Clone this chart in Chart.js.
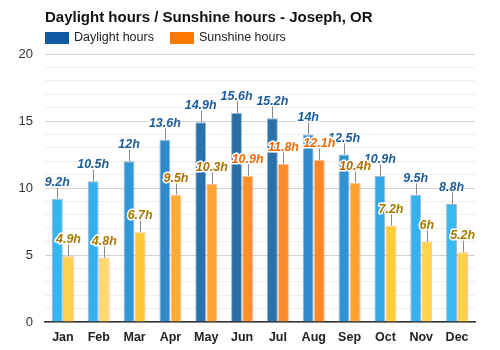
<!DOCTYPE html>
<html>
<head>
<meta charset="utf-8">
<script src="https://cdn.jsdelivr.net/npm/chart.js@4/dist/chart.umd.min.js"></script>
<style>
  html, body { margin: 0; padding: 0; background: #fff; }
  #wrap { width: 500px; height: 350px; position: relative; }
</style>
</head>
<body>
<div id="wrap"><canvas id="chart"></canvas></div>
<script>
const months = ["Jan", "Feb", "Mar", "Apr", "May", "Jun", "Jul", "Aug", "Sep", "Oct", "Nov", "Dec"];
const daylightHours = [9.2, 10.5, 12, 13.6, 14.9, 15.6, 15.2, 14, 12.5, 10.9, 9.5, 8.8];
const sunshineHours = [4.9, 4.8, 6.7, 9.5, 10.3, 10.9, 11.8, 12.1, 10.4, 7.2, 6, 5.2];
const yTickLabels = [0, 5, 10, 15, 20];

const daylightColors = ["#36b6f1", "#35b0ec", "#3197d7", "#2f8bca", "#2b70a8", "#2a6ea6", "#2b70a8", "#2f8bca", "#3192d3", "#33a8e6", "#35b1ed", "#37b9f3"];
const sunshineColors = ["#ffd24c", "#ffdb6e", "#ffc935", "#ffac33", "#ffa22f", "#ff8d29", "#ff8a29", "#ff8628", "#ffa030", "#ffcb36", "#ffd550", "#ffd04a"];
const sunshineLabelColors = ["#a67c00", "#a67c00", "#a67c00", "#b06f00", "#b06f00", "#ee6a0a", "#ee6a0a", "#ee6a0a", "#b06f00", "#a67c00", "#a67c00", "#a67c00"];
const daylightLabelColor = "#1b5c9b";

// value labels with leader lines above each bar
const valueLabels = {
    id: "valueLabels",
    afterDatasetsDraw(chart) {
        const ctx = chart.ctx;
        ctx.save();
        ctx.font = "italic bold 12.5px 'Liberation Sans', Arial, sans-serif";
        ctx.textAlign = "center";
        ctx.textBaseline = "alphabetic";
        chart.data.datasets.forEach((ds, di) => {
            const meta = chart.getDatasetMeta(di);
            meta.data.forEach((bar, i) => {
                const x = bar.x;
                const top = bar.y;
                ctx.strokeStyle = "#888";
                ctx.lineWidth = 1;
                ctx.beginPath();
                ctx.moveTo(Math.round(x) + 0.5, top);
                ctx.lineTo(Math.round(x) + 0.5, top - 12);
                ctx.stroke();
                const txt = ds.data[i] + "h";
                ctx.lineWidth = 3;
                ctx.strokeStyle = "#fff";
                ctx.lineJoin = "round";
                ctx.strokeText(txt, x, top - 13);
                ctx.fillStyle = di === 0 ? daylightLabelColor : sunshineLabelColors[i];
                ctx.fillText(txt, x, top - 13);
            });
        });
        ctx.restore();
    },
};

// title and legend drawn at fixed spots like the reference
const header = {
    id: "header",
    afterDraw(chart) {
        const ctx = chart.ctx;
        ctx.save();
        ctx.fillStyle = "#111";
        ctx.font = "bold 15px 'Liberation Sans', Arial, sans-serif";
        ctx.textBaseline = "alphabetic";
        ctx.fillText("Daylight hours / Sunshine hours - Joseph, OR", 45, 22);
        ctx.font = "12.5px 'Liberation Sans', Arial, sans-serif";
        ctx.textBaseline = "middle";
        ctx.fillStyle = "#0f5aa3";
        ctx.fillRect(45, 32, 24, 12);
        ctx.fillStyle = "#222";
        ctx.fillText("Daylight hours", 74, 38);
        ctx.fillStyle = "#ff7800";
        ctx.fillRect(170, 32, 24, 12);
        ctx.fillStyle = "#222";
        ctx.fillText("Sunshine hours", 199, 38);
        ctx.restore();
    },
};

new Chart(document.getElementById("chart"), {
    type: "bar",
    data: {
        labels: months,
        datasets: [
            {
                label: "Daylight hours",
                data: daylightHours,
                backgroundColor: daylightColors,
                borderColor: "rgba(40,90,150,0.45)",
                borderWidth: 1,
            },
            {
                label: "Sunshine hours",
                data: sunshineHours,
                backgroundColor: sunshineColors,
                borderColor: "rgba(255,140,60,0.55)",
                borderWidth: 1,
            },
        ],
    },
    options: {
        responsive: true,
        maintainAspectRatio: false,
        animation: false,
        layout: { padding: { left: 0, top: 54, right: 25, bottom: 0 } },
        datasets: { bar: { categoryPercentage: 0.62, barPercentage: 0.98 } },
        plugins: {
            legend: { display: false },
            title: { display: false },
            tooltip: { enabled: false },
        },
        scales: {
            x: {
                grid: { display: false, drawTicks: false },
                border: { color: "#333", width: 1.5 },
                ticks: {
                    color: "#222",
                    padding: 8,
                    font: { family: "'Liberation Sans', Arial, sans-serif", size: 12.5, weight: "bold" },
                },
                afterFit: (s) => { s.height = 28; },
            },
            y: {
                min: 0,
                max: 20,
                ticks: {
                    stepSize: 1,
                    autoSkip: false,
                    color: "#333",
                    padding: 12,
                    font: { family: "'Liberation Sans', Arial, sans-serif", size: 13 },
                    callback: (v) => (yTickLabels.includes(v) ? String(v) : ""),
                },
                grid: {
                    drawTicks: false,
                    color: (c) => (c.tick && c.tick.value % 5 === 0 ? "#d2d2d2" : "#efefef"),
                },
                border: { display: false },
                afterFit: (s) => { s.width = 45; },
            },
        },
    },
    plugins: [valueLabels, header],
});
</script>
</body>
</html>
